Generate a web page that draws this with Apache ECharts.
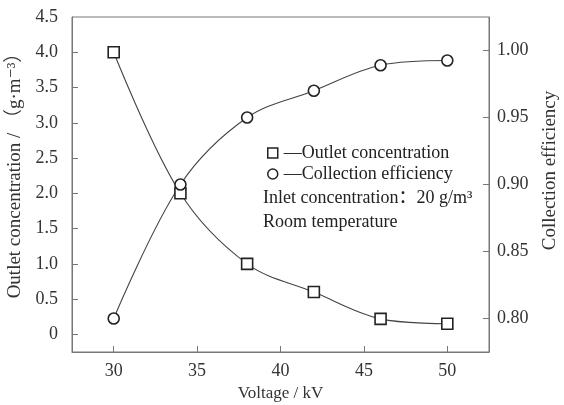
<!DOCTYPE html>
<html>
<head>
<meta charset="utf-8">
<script src="https://cdn.jsdelivr.net/npm/echarts@6/dist/echarts.min.js"></script>
<style>html,body{margin:0;padding:0;background:#fff}#c{width:564px;height:405px}</style>
</head>
<body>
<div id="c"></div>
<script>
const voltage = [30, 34, 38, 42, 46, 50];
const outletConc = [4.0, 2.0, 1.0, 0.6, 0.22, 0.15];
const collEff = [0.80, 0.90, 0.95, 0.97, 0.989, 0.9925];
const xTicks = [30, 35, 40, 45, 50];
const leftTicks = [0, 0.5, 1.0, 1.5, 2.0, 2.5, 3.0, 3.5, 4.0, 4.5];
const rightTicks = [0.80, 0.85, 0.90, 0.95, 1.00];
const seriesNames = ['Outlet concentration', 'Collection efficiency'];
const noteLines = ['Inlet concentration\uFF1A20 g/m\u00B3', 'Room temperature'];

const FONT = '"Liberation Serif", "DejaVu Serif", "Noto Sans CJK SC", serif';
const axisCol = '#777';
const txtCol = '#333';

const chart = echarts.init(document.getElementById('c'), null, {renderer: 'canvas'});
chart.setOption({
  backgroundColor: '#fff',
  animation: false,
  grid: {left: 72, right: 75, top: 17, bottom: 53, containLabel: false, outerBoundsMode: 'none',
    show: true, borderColor: axisCol, borderWidth: 1, backgroundColor: 'transparent'},
  xAxis: {
    type: 'value', min: 27.5, max: 52.5,
    name: 'Voltage / kV', nameLocation: 'middle', nameGap: 32,
    nameTextStyle: {fontFamily: FONT, fontSize: 17, color: txtCol},
    axisLine: {show: true, onZero: false, lineStyle: {color: axisCol}},
    axisTick: {show: true, inside: true, length: 6, lineStyle: {color: axisCol}, customValues: xTicks},
    axisLabel: {fontFamily: FONT, fontSize: 18, color: txtCol, margin: 10, customValues: xTicks},
    splitLine: {show: false}
  },
  yAxis: [{
    type: 'value', min: -0.25, max: 4.5, position: 'left',
    name: 'Outlet concentration / \uFF08g\u00B7m\u207B\u00B3\uFF09', nameLocation: 'middle', nameGap: 42,
    nameTextStyle: {fontFamily: FONT, fontSize: 19, color: txtCol, padding: [0, 0, 0, 27]},
    axisLine: {show: true, onZero: false, lineStyle: {color: axisCol}},
    axisTick: {show: true, inside: true, length: 6, lineStyle: {color: axisCol}, customValues: leftTicks.slice(0, 9)},
    axisLabel: {fontFamily: FONT, fontSize: 18, color: txtCol, margin: 14, customValues: leftTicks,
      formatter: v => v === 0 ? '0' : v.toFixed(1)},
    splitLine: {show: false}
  }, {
    type: 'value', min: 0.775, max: 1.025, position: 'right',
    name: 'Collection efficiency', nameLocation: 'middle', nameGap: 52,
    nameTextStyle: {fontFamily: FONT, fontSize: 19, color: txtCol, padding: [0, 0, 0, 28]},
    axisLine: {show: true, onZero: false, lineStyle: {color: axisCol}},
    axisTick: {show: true, inside: true, length: 6, lineStyle: {color: axisCol}, customValues: rightTicks},
    axisLabel: {fontFamily: FONT, fontSize: 18, color: txtCol, margin: 8, customValues: rightTicks,
      formatter: v => v.toFixed(2)},
    splitLine: {show: false}
  }],
  legend: {
    left: 267, top: 144, orient: 'vertical', padding: 0, itemGap: 3, itemWidth: 10, itemHeight: 10,
    textStyle: {fontFamily: FONT, fontSize: 18, color: '#222', padding: [0, 0, 0, 1]},
    formatter: n => '\u2014' + n,
    data: [
      {name: seriesNames[0], icon: 'rect', itemStyle: {color: '#fff', borderColor: '#222', borderWidth: 1.5}},
      {name: seriesNames[1], icon: 'circle', itemStyle: {color: '#fff', borderColor: '#222', borderWidth: 1.5}}
    ]
  },
  graphic: noteLines.map((t, i) => ({
    type: 'text', left: 263, top: 189 + i * 24,
    style: {text: t, fontFamily: FONT, fontSize: 18, fill: '#222'}
  })),
  series: [{
    name: seriesNames[0], type: 'line', yAxisIndex: 0, smooth: 0.35,
    data: voltage.map((v, i) => [v, outletConc[i]]),
    symbol: 'rect', symbolSize: 11,
    itemStyle: {color: '#fff', borderColor: '#222', borderWidth: 1.6},
    lineStyle: {color: '#444', width: 1.1}
  }, {
    name: seriesNames[1], type: 'line', yAxisIndex: 1, smooth: 0.35,
    data: voltage.map((v, i) => [v, collEff[i]]),
    symbol: 'circle', symbolSize: 11,
    itemStyle: {color: '#fff', borderColor: '#222', borderWidth: 1.6},
    lineStyle: {color: '#444', width: 1.1}
  }]
});
</script>
</body>
</html>
